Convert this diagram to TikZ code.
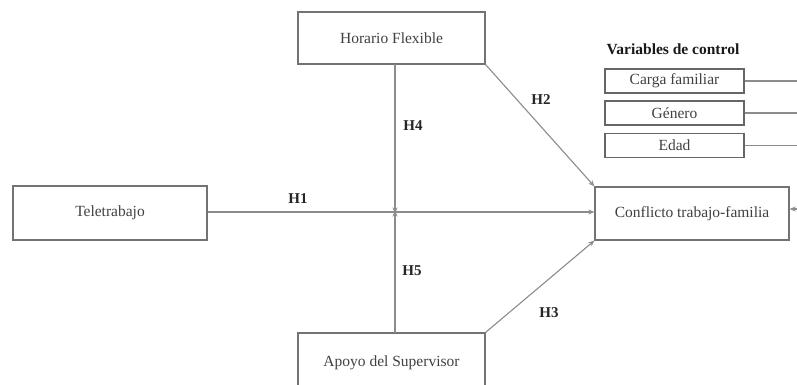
\documentclass[tikz,border=0pt]{standalone}
\usepackage{fontspec}
\setmainfont{Liberation Serif}
\usetikzlibrary{arrows.meta}
\begin{document}
\begin{tikzpicture}[x=1pt,y=-1pt,
  box/.style={draw=black!55,line width=1.3pt,fill=white,text=black!75,inner sep=0pt,font=\fontsize{15.5}{17}\selectfont},
  ctrl/.style={draw=black!60,line width=1.1pt,fill=white,text=black!75,inner sep=0pt,minimum width=139pt,minimum height=24pt,font=\fontsize{15.5}{17}\selectfont},
  conn/.style={draw=black!45,line width=1.1pt},
  arr/.style={conn,-{Stealth[length=6pt,width=5pt]}},
  hlab/.style={font=\bfseries\fontsize{15}{17}\selectfont,text=black!85,inner sep=0pt}]
\useasboundingbox (0,0) rectangle (797,385);
\clip (0,0) rectangle (797,385);
\fill[white] (0,0) rectangle (797,385);
% nodes
\node[box,minimum width=194pt,minimum height=54pt] (tele) at (110,213) {Teletrabajo};
\node[box,minimum width=187pt,minimum height=52pt] (hor) at (391.5,38) {Horario Flexible};
\node[box,minimum width=187pt,minimum height=60pt] (apo) at (391.5,363) {Apoyo del Supervisor};
\node[box,minimum width=194pt,minimum height=53pt] (con) at (692,213.5) {Conflicto trabajo-familia};
\node[font=\bfseries\fontsize{15.5}{17}\selectfont,text=black!90,inner sep=0pt] (vtitle) at (673,49) {Variables de control};
\node[ctrl] (carga) at (674.5,81) {Carga familiar};
\node[ctrl] (gen) at (674.5,113) {Género};
\node[ctrl] (edad) at (674.5,145.5) {Edad};
% coordinates
\coordinate (mid) at (395,212);
\coordinate (htop) at (395,64);
\coordinate (abot) at (395,333);
\coordinate (r1) at (800,81);
\coordinate (r2) at (800,113);
\coordinate (r3) at (800,145.5);
\coordinate (r4) at (800,209);
% connectors
\draw[arr] (tele.east |- mid) -- (con.west |- mid);
\draw[arr] (htop) -- ([yshift=-1.5pt]mid);
\draw[arr] (abot) -- ([yshift=1.5pt]mid);
\draw[arr] (hor.south east) -- (con.north west);
\draw[arr] (apo.north east) -- (con.south west);
\draw[conn] (carga.east) -- (r1);
\draw[conn] (gen.east) -- (r2);
\draw[conn] (edad.east) -- (r3);
\draw[arr] (r4) -- (con.east |- r4);
% labels
\node[hlab] (h1) at (298,199) {H1};
\node[hlab] (h2) at (541,100) {H2};
\node[hlab] (h3) at (549,313) {H3};
\node[hlab] (h4) at (413,126) {H4};
\node[hlab] (h5) at (412,271) {H5};
\end{tikzpicture}
\end{document}
